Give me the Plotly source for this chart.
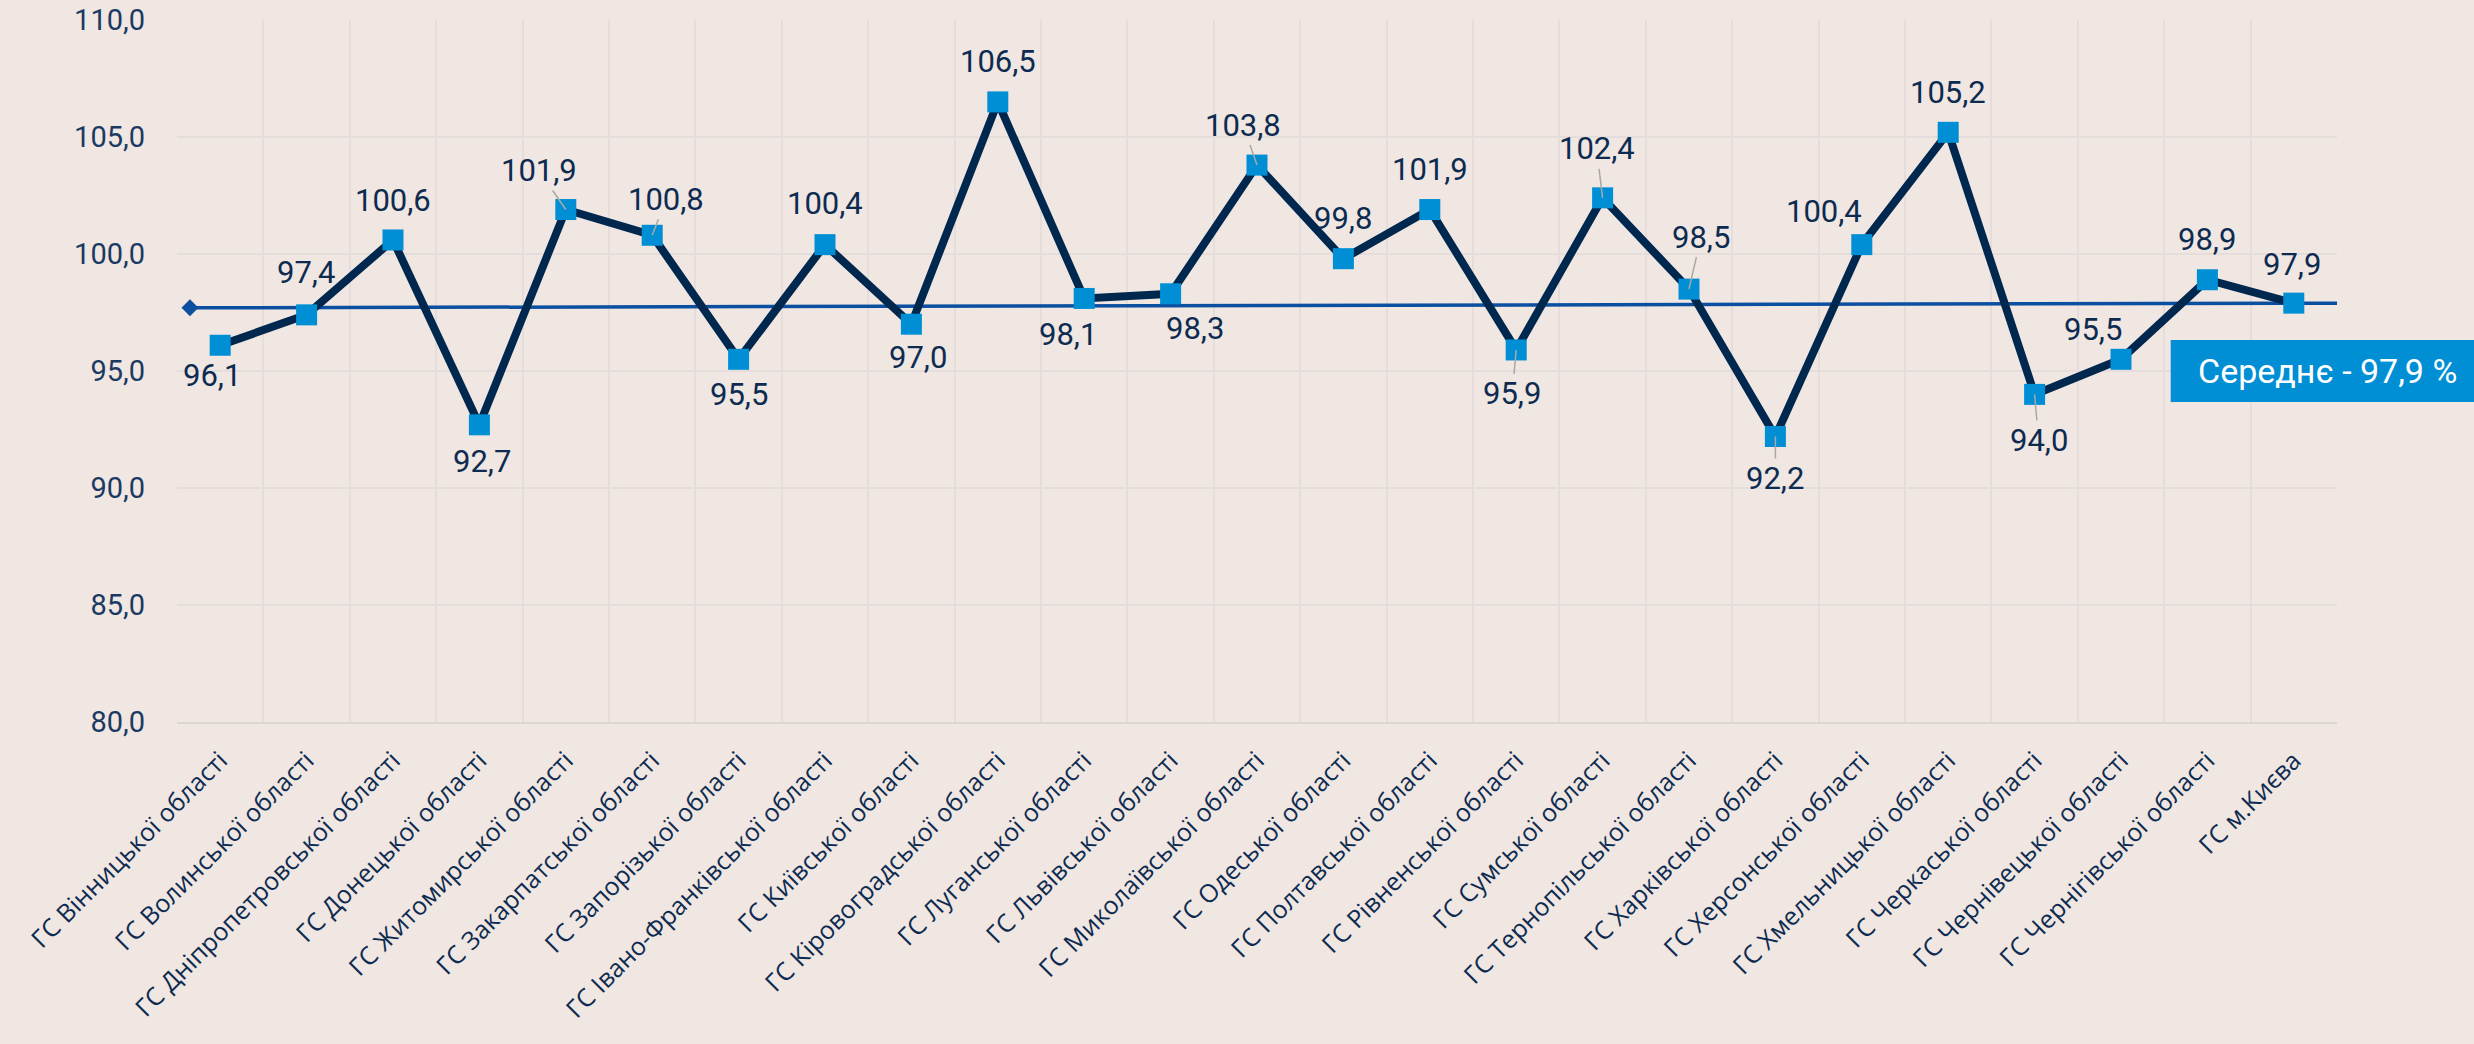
import plotly.graph_objects as go

categories = [
    "ГС Вінницької області", "ГС Волинської області", "ГС Дніпропетровської області",
    "ГС Донецької області", "ГС Житомирської області", "ГС Закарпатської області",
    "ГС Запорізької області", "ГС Івано-Франківської області", "ГС Київської області",
    "ГС Кіровоградської області", "ГС Луганської області", "ГС Львівської області",
    "ГС Миколаївської області", "ГС Одеської області", "ГС Полтавської області",
    "ГС Рівненської області", "ГС Сумської області", "ГС Тернопільської області",
    "ГС Харківської області", "ГС Херсонської області", "ГС Хмельницької області",
    "ГС Черкаської області", "ГС Чернівецької області", "ГС Чернігівської області",
    "ГС м.Києва",
]
values = [96.1, 97.4, 100.6, 92.7, 101.9, 100.8, 95.5, 100.4, 97.0, 106.5,
          98.1, 98.3, 103.8, 99.8, 101.9, 95.9, 102.4, 98.5, 92.2, 100.4,
          105.2, 94.0, 95.5, 98.9, 97.9]
average_value = 97.9
average_line_ends = [97.7, 97.9]
average_label = "Середнє - 97,9 %"
y_ticks = [80, 85, 90, 95, 100, 105, 110]

# label placement (screen px offsets, dy positive = down), leader flag
label_offsets = [(-8, 30, 0), (-1, -42, 0), (0, -39, 0), (3, 37, 0), (-27, -39, 1),
                 (14, -36, 1), (0, 35, 0), (0, -41, 0), (7, 33, 0), (0, -40, 0),
                 (-16, 36, 0), (24, 35, 0), (-14, -40, 1), (0, -40, 0), (0, -40, 0),
                 (-4, 44, 1), (-6, -49, 1), (12, -52, 1), (0, 42, 1), (-38, -33, 0),
                 (0, -40, 0), (4, 46, 1), (-28, -30, 0), (0, -40, 0), (-2, -39, 0)]

BG = "#F0E6E2"
NAVY = "#00284F"
MARK = "#008FD5"
AVG = "#0A4FA0"
TXT = "#0D2B50"
GRID = "#E4DDDC"

xs = list(range(len(categories)))
fig = go.Figure()

fig.add_trace(go.Scatter(
    x=[-0.35, len(categories) - 1 + 0.57], y=average_line_ends,
    mode="lines+markers",
    line=dict(color=AVG, width=3.5),
    marker=dict(symbol="diamond", size=13, color=AVG),
    hoverinfo="skip", showlegend=False, cliponaxis=False,
))
fig.add_trace(go.Scatter(
    x=xs, y=values, mode="lines+markers",
    line=dict(color=NAVY, width=8),
    marker=dict(symbol="square", size=21, color=MARK, line=dict(width=0)),
    showlegend=False, cliponaxis=False,
))

for i, (v, (dx, dy, leader)) in enumerate(zip(values, label_offsets)):
    txt = f"{v:.1f}".replace(".", ",")
    if leader:
        fig.add_annotation(x=i, y=v, text=txt, showarrow=True, ax=dx, ay=dy,
                           arrowhead=0, arrowwidth=1.5, arrowcolor="#A8A8A8",
                           standoff=0, startstandoff=0,
                           font=dict(family="Roboto", size=31, color=TXT))
    else:
        fig.add_annotation(x=i, y=v, text=txt, showarrow=False,
                           xshift=dx, yshift=-dy,
                           font=dict(family="Roboto", size=31, color=TXT))

# average label box
fig.add_shape(type="rect", xref="paper", yref="paper",
              x0=0.923, x1=1.07, y0=0.456, y1=0.544,
              fillcolor=MARK, line=dict(width=0), layer="above")
fig.add_annotation(xref="paper", yref="paper", x=0.9955, y=0.5,
                   xanchor="center", yanchor="middle",
                   text=average_label, showarrow=False,
                   font=dict(family="Roboto", size=34, color="white"))

fig.update_layout(
    width=2474, height=1044,
    paper_bgcolor=BG, plot_bgcolor=BG,
    margin=dict(l=177, r=137, t=20, b=322, autoexpand=False),
    separators=", ",
    font=dict(family="Open Sans", color=TXT),
)
fig.update_xaxes(
    range=[-0.5, len(categories) - 0.5], automargin=False,
    tickmode="array", tickvals=xs, ticktext=categories,
    tickangle=-45, tickfont=dict(family="Open Sans", size=25, color=TXT),
    showgrid=False, zeroline=False,
    minor=dict(tick0=-0.5, dtick=1, showgrid=True, gridcolor=GRID, gridwidth=1.5),
    showline=True, linecolor="#DCD5D4", linewidth=2,
    ticks="", ticklabelstandoff=12,
)
fig.update_yaxes(
    range=[80, 110], tickvals=y_ticks, tickformat=".1f", automargin=False,
    tickfont=dict(family="Roboto", size=29, color="#1B3A63"),
    showgrid=True, gridcolor=GRID, gridwidth=1.5, zeroline=False,
    ticks="", ticklabelstandoff=31,
)

fig.write_html("out.html", config={"displayModeBar": False},
               post_script="document.body.style.margin='0';document.body.style.overflow='hidden';")
